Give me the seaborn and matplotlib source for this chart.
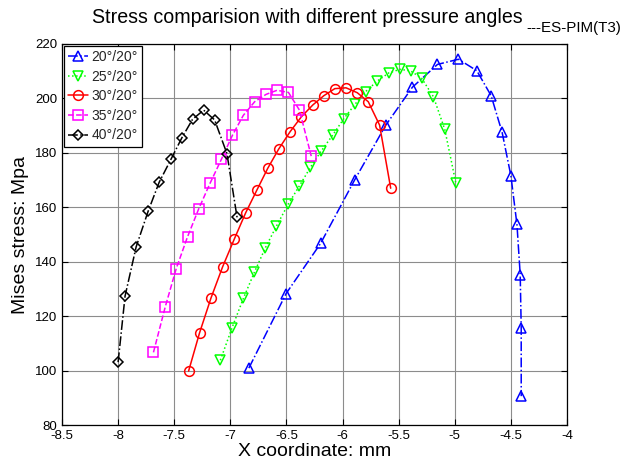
import matplotlib
matplotlib.use("Agg")
import matplotlib.pyplot as plt
import seaborn as sns
import pandas as pd

# Contact stress along the tooth profile for several pressure angles
labels = ["20°/20°", "25°/20°", "30°/20°", "35°/20°", "40°/20°"]

x_20 = [-6.835, -6.503, -6.196, -5.893, -5.616, -5.378, -5.154, -4.967, -4.804,
        -4.676, -4.578, -4.500, -4.446, -4.417, -4.408, -4.408]
y_20 = [100.9, 128.3, 146.7, 170.0, 190.1, 204.1, 212.5, 214.4, 210.2,
        201.0, 187.5, 171.6, 153.7, 135.3, 115.7, 90.6]

x_25 = [-7.089, -6.985, -6.884, -6.786, -6.688, -6.589, -6.485, -6.384, -6.286,
        -6.188, -6.085, -5.988, -5.888, -5.795, -5.690, -5.587, -5.488, -5.393,
        -5.295, -5.190, -5.089, -4.991]
y_25 = [103.8, 115.7, 126.5, 136.1, 145.1, 153.1, 161.1, 167.9, 174.7,
        180.8, 186.7, 192.6, 197.9, 202.5, 206.4, 209.4, 210.7, 210.1,
        207.4, 200.6, 188.6, 169.0]

x_30 = [-7.372, -7.274, -7.172, -7.069, -6.964, -6.863, -6.765, -6.667, -6.569,
        -6.467, -6.366, -6.265, -6.167, -6.069, -5.969, -5.869, -5.771, -5.670,
        -5.571]
y_30 = [99.8, 113.9, 126.7, 138.1, 148.4, 158.0, 166.2, 174.3, 181.4,
        187.8, 193.3, 197.6, 201.0, 203.6, 203.9, 202.1, 198.8, 190.2,
        167.0]

x_35 = [-7.685, -7.580, -7.482, -7.381, -7.283, -7.181, -7.080, -6.982, -6.884,
        -6.783, -6.681, -6.583, -6.482, -6.384, -6.279]
y_35 = [106.7, 123.4, 137.5, 149.2, 159.3, 168.8, 177.6, 186.4, 193.8,
        198.8, 201.5, 203.0, 202.2, 195.7, 178.8]

x_40 = [-8.000, -7.938, -7.839, -7.732, -7.634, -7.527, -7.431, -7.337, -7.238,
        -7.140, -7.030, -6.940]
y_40 = [103.1, 127.4, 145.5, 158.6, 169.2, 177.8, 185.6, 192.3, 195.7,
        192.1, 179.7, 156.3]

x_ticks = [-8.5, -8, -7.5, -7, -6.5, -6, -5.5, -5, -4.5, -4]
y_ticks = [80, 100, 120, 140, 160, 180, 200, 220]

series = [
    (x_20, y_20, "#0000ff", "^", "-."),
    (x_25, y_25, "#00ff00", "v", ":"),
    (x_30, y_30, "#ff0000", "o", "-"),
    (x_35, y_35, "#ff00ff", "s", "--"),
    (x_40, y_40, "#000000", "D", "-."),
]

sns.set_theme(style="white")
plt.rcParams["font.family"] = ["Liberation Sans", "DejaVu Sans"]

fig = plt.figure(figsize=(6.27, 4.66), dpi=100)
ax = fig.add_axes([62 / 627, 1 - 425 / 466, 505 / 627, 381 / 466])

for (xs, ys, col, mk, ls), lab in zip(series, labels):
    df = pd.DataFrame({"x": xs, "y": ys})
    sns.lineplot(data=df, x="x", y="y", ax=ax, sort=False, estimator=None,
                 color=col, marker=mk, linestyle=ls, linewidth=1.1,
                 markersize=7 if mk != "D" else 5.5, markerfacecolor="none",
                 markeredgecolor=col, markeredgewidth=1.1, label=lab)

ax.set_xlim(-8.5, -4)
ax.set_ylim(80, 220)
ax.set_xticks(x_ticks)
ax.set_xticklabels([f"{v:g}" for v in x_ticks])
ax.set_yticks(y_ticks)
ax.set_yticklabels([f"{v:g}" for v in y_ticks])
ax.tick_params(direction="in", length=4, width=0.8, colors="black",
               labelsize=9.5, top=True, right=True, bottom=True, left=True,
               pad=3.5)
ax.grid(True, color="#8c8c8c", linewidth=0.8, linestyle="-")
ax.set_axisbelow(True)
for sp in ax.spines.values():
    sp.set_color("black")
    sp.set_linewidth(0.9)

ax.set_xlabel("X coordinate: mm", fontsize=14, color="black", labelpad=0.5)
ax.set_ylabel("Mises stress: Mpa", fontsize=14, color="black", labelpad=4)

leg = ax.legend(loc="upper left", fontsize=10, frameon=True, fancybox=False,
                framealpha=1, edgecolor="black", borderpad=0.3,
                handlelength=1.45, handletextpad=0.2, labelspacing=0.4,
                borderaxespad=0.15)
leg.get_frame().set_linewidth(0.9)

# Title with a trailing subscript-style tag
title = fig.text(92 / 627, 1 - 23 / 466,
                 "Stress comparision with different pressure angles",
                 ha="left", va="baseline", fontsize=12, color="black")
tag = fig.text(526 / 627, 1 - 32 / 466, "---ES-PIM(T3)",
               ha="left", va="baseline", fontsize=10, color="black")

# size both pieces to their intended widths in pixels
renderer = fig.canvas.get_renderer()
for txt, target in ((title, 428), (tag, 95)):
    w = txt.get_window_extent(renderer).width
    txt.set_fontsize(txt.get_fontsize() * target / w)

fig.savefig("out.png", dpi=100, facecolor="white")
